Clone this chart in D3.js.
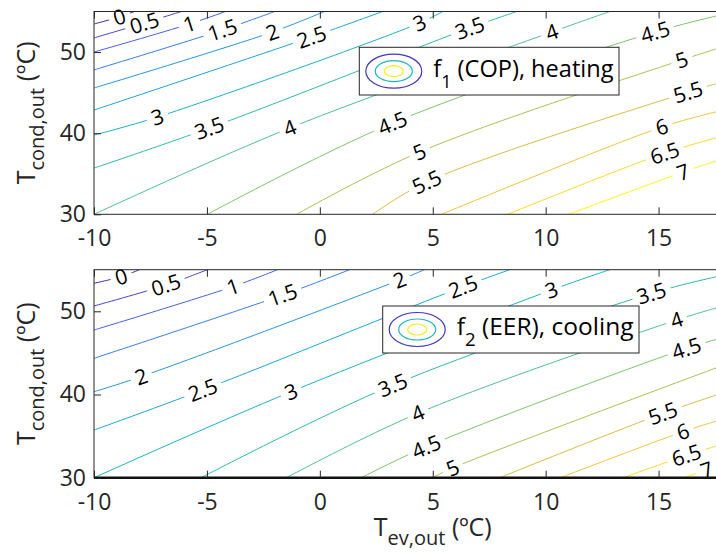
<!DOCTYPE html>
<html>
<head>
<meta charset="utf-8">
<script src="https://cdn.jsdelivr.net/npm/d3@7"></script>
<style>
  body { margin: 0; background: #fff; }
  svg { display: block; font-family: "Open Sans", sans-serif; }
</style>
</head>
<body>
<svg id="chart" width="716" height="552"></svg>
<script>
// contour levels and ticks
const levels = [0, 0.5, 1, 1.5, 2, 2.5, 3, 3.5, 4, 4.5, 5, 5.5, 6, 6.5, 7];
const xTicks = [-10, -5, 0, 5, 10, 15];
const yTicks = [30, 40, 50];

// contour lines: [T_ev,out, T_cond,out] per level (f1, COP heating)
const copLines = [
  [[-10, 53.46], [-8.88, 54.33], [-8.21, 55]],
  [[-10, 51.74], [-7.77, 53.59], [-6.13, 55]],
  [[-10, 50.0], [-5.78, 53.46], [-4.18, 55]],
  [[-10, 47.8], [-4.31, 52.72], [-2.0, 55]],
  [[-10, 45.57], [-2.1, 52.47], [0.2, 55]],
  [[-10, 42.85], [-0.37, 51.86], [2.78, 55]],
  [[-10, 39.77], [-7.19, 41.99], [4.42, 53.59], [5.44, 55]],
  [[-10, 35.7], [-4.89, 40.63], [6.64, 52.97], [8.72, 55]],
  [[-10, 30], [-1.34, 40.63], [10.27, 52.47], [12.84, 55]],
  [[-4.98, 30], [3.22, 41.25], [14.84, 52.47], [17.8, 54.6]],
  [[-1.03, 30], [4.42, 37.68], [16.04, 49.03], [17.8, 50.6]],
  [[2.34, 30], [4.73, 33.98], [16.31, 45.07], [17.8, 46.3]],
  [[5.39, 30], [15.15, 40.76], [17.8, 42.8]],
  [[8.32, 30], [15.28, 37.55], [17.8, 39.6]],
  [[11.02, 30], [16.09, 35.21], [17.8, 36.8]]
];
const copLabels = [
  [[-8.88, 54.33]], [[-7.77, 53.59]], [[-5.78, 53.46]], [[-4.31, 52.72]],
  [[-2.1, 52.47]], [[-0.37, 51.86]],
  [[-7.19, 41.99], [4.42, 53.59]], [[-4.89, 40.63], [6.64, 52.97]],
  [[-1.34, 40.63], [10.27, 52.47]], [[3.22, 41.25], [14.84, 52.47]],
  [[4.42, 37.68], [16.04, 49.03]], [[4.73, 33.98], [16.31, 45.07]],
  [[15.15, 40.76]], [[15.28, 37.55]], [[16.09, 35.21]]
];

// f2, EER cooling
const eerLines = [
  [[-10, 53.37], [-8.8, 54.16], [-7.99, 55]],
  [[-10, 50.64], [-6.81, 53.16], [-4.98, 55]],
  [[-10, 47.75], [-3.86, 52.96], [-1.87, 55]],
  [[-10, 44.35], [-1.64, 51.96], [1.32, 55]],
  [[-10, 40.34], [-7.92, 42.14], [3.53, 53.76], [4.64, 55]],
  [[-10, 35.73], [-5.19, 40.54], [6.34, 52.96], [8.41, 55]],
  [[-10, 30], [-1.27, 40.34], [10.26, 52.56], [12.84, 55]],
  [[-5.26, 30], [3.24, 41.14], [14.69, 52.16], [17.8, 54.3]],
  [[-1.48, 30], [4.34, 37.74], [15.8, 48.95], [17.8, 50.6]],
  [[1.84, 30], [4.72, 33.73], [16.24, 45.55], [17.8, 46.8]],
  [[4.99, 30], [5.88, 31.17], [17.8, 43.45]],
  [[7.96, 30], [15.2, 37.74], [17.8, 40.15]],
  [[10.65, 30], [16.09, 35.53], [17.8, 37.0]],
  [[13.44, 30], [16.24, 32.7], [17.8, 34.0]],
  [[16.13, 30], [17.13, 30.93], [17.8, 31.6]]
];
const eerLabels = [
  [[-8.8, 54.16]], [[-6.81, 53.16]], [[-3.86, 52.96]], [[-1.64, 51.96]],
  [[-7.92, 42.14], [3.53, 53.76]], [[-5.19, 40.54], [6.34, 52.96]],
  [[-1.27, 40.34], [10.26, 52.56]], [[3.24, 41.14], [14.69, 52.16]],
  [[4.34, 37.74], [15.8, 48.95]], [[4.72, 33.73], [16.24, 45.55]],
  [[5.88, 31.17]], [[15.2, 37.74]], [[16.09, 35.53]], [[16.24, 32.7]], [[17.13, 30.93]]
];

// parula-like colormap stops
const parula = ["#3e26a8", "#4758f5", "#2c8cf0", "#0fadd8", "#22baad",
                "#6fc574", "#cbbc42", "#fcc03a", "#f9fb0e"];
const color = d3.scaleSequential(d3.interpolateRgbBasis(parula)).domain([0, 7]);

const axisColor = "#262626";
const svg = d3.select("#chart");
const defs = svg.append("defs");
const x = d3.scaleLinear().domain([-10, 20]).range([94, 771.5]);

const panels = [
  { id: "cop", lines: copLines, labels: copLabels, top: 11.5, bottom: 214.3,
    legend: { x: 359.3, y: 47.3, w: 259.7, h: 47.7, sub: "1", rest: " (COP), heating" } },
  { id: "eer", lines: eerLines, labels: eerLabels, top: 269.7, bottom: 477.7,
    legend: { x: 382.7, y: 306, w: 256.3, h: 47, sub: "2", rest: " (EER), cooling" } }
];

panels.forEach((p, pi) => {
  const y = d3.scaleLinear().domain([30, 55]).range([p.bottom, p.top]);
  const g = svg.append("g");

  defs.append("clipPath").attr("id", "clip-" + p.id)
    .append("rect")
    .attr("x", x(-10)).attr("y", p.top)
    .attr("width", x(20) - x(-10)).attr("height", p.bottom - p.top);

  // mask that opens gaps in the lines where the labels sit
  const mask = defs.append("mask").attr("id", "mask-" + p.id)
    .attr("maskUnits", "userSpaceOnUse")
    .attr("x", 0).attr("y", 0).attr("width", 716).attr("height", 552);
  mask.append("rect").attr("width", 716).attr("height", 552).attr("fill", "white");

  const line = d3.line()
    .x(d => x(d[0]))
    .y(d => y(d[1]))
    .curve(d3.curveCatmullRom.alpha(0.5));

  const lg = g.append("g").attr("clip-path", `url(#clip-${p.id})`)
    .append("g").attr("mask", `url(#mask-${p.id})`);

  const paths = lg.selectAll("path")
    .data(levels)
    .join("path")
    .attr("d", (d, i) => line(p.lines[i]))
    .attr("fill", "none")
    .attr("stroke", d => color(d))
    .attr("stroke-width", 1);

  // contour labels, rotated along the line
  const labelG = g.append("g")
    .attr("font-size", 21)
    .attr("fill", "#000");
  levels.forEach((lev, i) => {
    const node = paths.nodes()[i];
    const total = node.getTotalLength();
    p.labels[i].forEach(pt => {
      const px = x(pt[0]), py = y(pt[1]);
      let best = 0, bestD = Infinity;
      for (let L = 0; L <= total; L += 0.5) {
        const q = node.getPointAtLength(L);
        const dd = (q.x - px) ** 2 + (q.y - py) ** 2;
        if (dd < bestD) { bestD = dd; best = L; }
      }
      const c = node.getPointAtLength(best);
      const a = node.getPointAtLength(Math.max(0, best - 6));
      const b = node.getPointAtLength(Math.min(total, best + 6));
      let ang = Math.atan2(b.y - a.y, b.x - a.x) * 180 / Math.PI;
      if (ang > 90) ang -= 180;
      if (ang < -90) ang += 180;
      const tr = `translate(${c.x},${c.y}) rotate(${ang})`;
      const t = labelG.append("text")
        .attr("transform", tr)
        .attr("text-anchor", "middle")
        .attr("dy", "0.36em")
        .text(String(lev));
      const w = t.node().getComputedTextLength();
      mask.append("rect")
        .attr("transform", tr)
        .attr("x", -w / 2 - 5).attr("y", -10)
        .attr("width", w + 10).attr("height", 20)
        .attr("fill", "black");
    });
  });

  // box
  g.append("rect")
    .attr("x", x(-10)).attr("y", p.top)
    .attr("width", x(20) - x(-10)).attr("height", p.bottom - p.top)
    .attr("fill", "none").attr("stroke", axisColor).attr("stroke-width", 1);
  if (pi === 1) {
    g.append("line")
      .attr("x1", x(-10)).attr("x2", x(20))
      .attr("y1", p.bottom).attr("y2", p.bottom)
      .attr("stroke", "#111").attr("stroke-width", 2.5);
  }

  // axes with inward ticks
  const xa = g.append("g")
    .attr("transform", `translate(0,${p.bottom})`)
    .call(d3.axisBottom(x).tickValues(xTicks).tickSizeInner(-7).tickSizeOuter(0)
      .tickPadding(15.5).tickFormat(d => String(d)));
  const xt = g.append("g")
    .attr("transform", `translate(0,${p.top})`)
    .call(d3.axisTop(x).tickValues(xTicks).tickSizeInner(-7).tickSizeOuter(0).tickFormat(() => ""));
  const ya = g.append("g")
    .attr("transform", `translate(${x(-10)},0)`)
    .call(d3.axisLeft(y).tickValues(yTicks).tickSizeInner(-7).tickSizeOuter(0).tickPadding(8));
  [xa, xt, ya].forEach(a => {
    a.attr("font-family", null).attr("font-size", 23).attr("color", axisColor);
    a.select(".domain").remove();
  });

  // y label
  const yl = g.append("text")
    .attr("transform", `translate(35,${(p.top + p.bottom) / 2}) rotate(-90)`)
    .attr("text-anchor", "middle")
    .attr("font-size", 25)
    .attr("fill", axisColor);
  yl.append("tspan").text("T");
  yl.append("tspan").attr("dy", 9).attr("font-size", 20).text("cond,out");
  yl.append("tspan").attr("dy", -9).text(" (ºC)");

  // legend
  const L = p.legend;
  const leg = g.append("g").attr("transform", `translate(${L.x},${L.y})`);
  leg.append("rect")
    .attr("width", L.w).attr("height", L.h)
    .attr("fill", "#fff").attr("stroke", axisColor).attr("stroke-width", 1);
  const cx = 34.5, cy = L.h / 2;
  [[28, 17, color(0.3)], [18.5, 10.5, color(3.2)], [9.5, 5.5, color(6.8)]].forEach(e => {
    leg.append("ellipse")
      .attr("cx", cx).attr("cy", cy).attr("rx", e[0]).attr("ry", e[1])
      .attr("fill", "none").attr("stroke", e[2]).attr("stroke-width", 1.2);
  });
  const lt = leg.append("text")
    .attr("x", 74).attr("y", cy + 5.5)
    .attr("font-size", 25)
    .attr("fill", "#000");
  lt.append("tspan").text("f");
  lt.append("tspan").attr("dy", 11).attr("font-size", 19).text(L.sub);
  lt.append("tspan").attr("dy", -11).text(L.rest);
  // fit the legend text inside its box
  const tw = lt.node().getBBox().width;
  const room = L.w - 74 - 5;
  if (tw > room) {
    const k = room / tw;
    lt.attr("font-size", 25 * k);
    lt.selectAll("tspan").filter((d, j) => j === 1).attr("font-size", 19 * k);
  }
});

// x label
const xl = svg.append("text")
  .attr("x", (x(-10) + x(20)) / 2).attr("y", 536)
  .attr("text-anchor", "middle")
  .attr("font-size", 25)
  .attr("fill", axisColor);
xl.append("tspan").text("T");
xl.append("tspan").attr("dy", 9).attr("font-size", 20).text("ev,out");
xl.append("tspan").attr("dy", -9).text(" (ºC)");
</script>
</body>
</html>
